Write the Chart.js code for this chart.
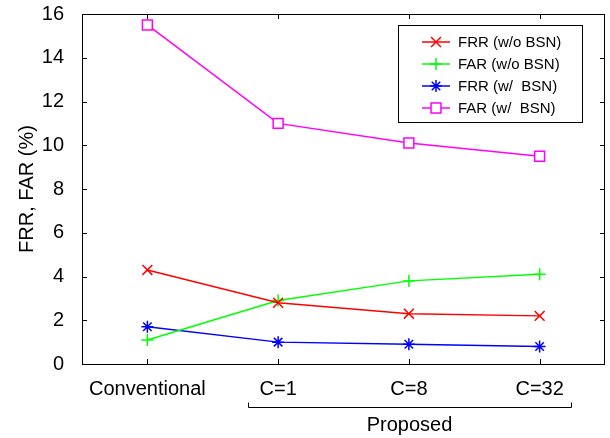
<!DOCTYPE html>
<html>
<head>
<meta charset="utf-8">
<script src="https://cdn.jsdelivr.net/npm/chart.js@4/dist/chart.umd.min.js"></script>
<style>
  html, body { margin: 0; padding: 0; background: #fff; }
  #wrap { width: 610px; height: 438px; }
</style>
</head>
<body>
<div id="wrap"><canvas id="c" width="610" height="438"></canvas></div>
<script>
const categories = ['Conventional', 'C=1', 'C=8', 'C=32'];
const frrWithoutBSN = [4.3, 2.8, 2.3, 2.2];
const farWithoutBSN = [1.1, 2.9, 3.8, 4.1];
const frrWithBSN = [1.7, 1.0, 0.9, 0.8];
const farWithBSN = [15.5, 11.0, 10.1, 9.5];
const seriesLabels = ['FRR (w/o BSN)', 'FAR (w/o BSN)', 'FRR (w/  BSN)', 'FAR (w/  BSN)'];
const yTicks = [0, 2, 4, 6, 8, 10, 12, 14, 16];
const yTitle = 'FRR, FAR (%)';
const groupLabel = 'Proposed';
const groupFirst = 1, groupLast = 3;

const FONT = 'Liberation Sans, Arial, Helvetica, sans-serif';

function ds(label, data, color, style, r) {
  return {
    label, data,
    borderColor: color, backgroundColor: color,
    borderWidth: 1.5,
    pointStyle: style, pointRadius: r, pointHoverRadius: r,
    pointBorderColor: color, pointBackgroundColor: '#fff',
    pointBorderWidth: 1.5,
    tension: 0, fill: false
  };
}

const framePlugin = {
  id: 'frame',
  afterDraw(chart) {
    const ctx = chart.ctx;
    const a = chart.chartArea;
    const xs = chart.scales.x, ys = chart.scales.y;
    ctx.save();
    ctx.strokeStyle = '#000';
    ctx.lineWidth = 1;
    ctx.strokeRect(Math.round(a.left) + 0.5, Math.round(a.top) + 0.5,
                   Math.round(a.right - a.left) - 1, Math.round(a.bottom - a.top));
    const tl = 5;
    ctx.beginPath();
    yTicks.forEach(v => {
      const y = Math.round(ys.getPixelForValue(v)) + 0.5;
      ctx.moveTo(a.left, y); ctx.lineTo(a.left + tl, y);
      ctx.moveTo(a.right, y); ctx.lineTo(a.right - tl, y);
    });
    categories.forEach((c, i) => {
      const x = Math.round(xs.getPixelForValue(i)) + 0.5;
      ctx.moveTo(x, a.bottom); ctx.lineTo(x, a.bottom - tl);
      ctx.moveTo(x, a.top); ctx.lineTo(x, a.top + tl);
    });
    ctx.stroke();

    // group bracket
    const x1 = Math.round(xs.getPixelForValue(groupFirst) - 30);
    const x2 = Math.round(xs.getPixelForValue(groupLast) + 31);
    const by = 407.5;
    ctx.beginPath();
    ctx.moveTo(x1 + 0.5, by - 5); ctx.lineTo(x1 + 0.5, by);
    ctx.lineTo(x2 + 0.5, by); ctx.lineTo(x2 + 0.5, by - 5);
    ctx.stroke();
    ctx.fillStyle = '#000';
    ctx.font = '20px ' + FONT;
    ctx.textAlign = 'center';
    ctx.textBaseline = 'middle';
    ctx.fillText(groupLabel, (x1 + x2) / 2, 425);

    // legend
    const lx = 398.5, ly = 25.5, lw = 184, lh = 97;
    ctx.fillStyle = '#fff';
    ctx.fillRect(lx, ly, lw, lh);
    ctx.strokeStyle = '#000';
    ctx.strokeRect(lx, ly, lw, lh);
    ctx.font = '15px ' + FONT;
    ctx.textAlign = 'left';
    chart.data.datasets.forEach((d, i) => {
      const y = 42 + i * 22;
      ctx.strokeStyle = d.borderColor;
      ctx.lineWidth = 1.5;
      ctx.beginPath();
      ctx.moveTo(422, y); ctx.lineTo(450, y);
      ctx.stroke();
      ctx.fillStyle = '#fff';
      Chart.helpers.drawPoint(ctx, {
        pointStyle: d.pointStyle, radius: d.pointRadius, rotation: 0, borderWidth: 1.5
      }, 436, y);
      ctx.fillStyle = '#000';
      ctx.fillText(d.label, 458, y + 1);
    });
    ctx.restore();
  }
};

new Chart(document.getElementById('c'), {
  type: 'line',
  data: {
    labels: categories,
    datasets: [
      ds(seriesLabels[0], frrWithoutBSN, '#ff0000', 'crossRot', 7),
      ds(seriesLabels[1], farWithoutBSN, '#00ff00', 'cross', 6),
      ds(seriesLabels[2], frrWithBSN, '#0000ff', 'star', 6),
      ds(seriesLabels[3], farWithBSN, '#ff00ff', 'rect', 7)
    ]
  },
  options: {
    responsive: false,
    animation: false,
    devicePixelRatio: 1,
    layout: { autoPadding: false, padding: { left: 0, right: 5, top: 14, bottom: 0 } },
    plugins: { legend: { display: false }, tooltip: { enabled: false } },
    scales: {
      x: {
        type: 'category',
        offset: true,
        grid: { display: false, drawTicks: false },
        border: { display: false },
        ticks: { color: '#000', font: { family: FONT, size: 20 }, padding: 13, maxRotation: 0, autoSkip: false },
        afterFit(s) { s.height = 74; s.paddingLeft = 0; s.paddingRight = 0; }
      },
      y: {
        min: 0, max: 16,
        grid: { display: false, drawTicks: false },
        border: { display: false },
        ticks: { stepSize: 2, color: '#000', font: { family: FONT, size: 20 }, padding: 18 },
        title: { display: true, text: yTitle, color: '#000', font: { family: FONT, size: 20 }, padding: { top: 15, bottom: 0 } },
        afterFit(s) { s.width = 82; s.paddingTop = 0; s.paddingBottom = 0; }
      }
    }
  },
  plugins: [framePlugin]
});
</script>
</body>
</html>
